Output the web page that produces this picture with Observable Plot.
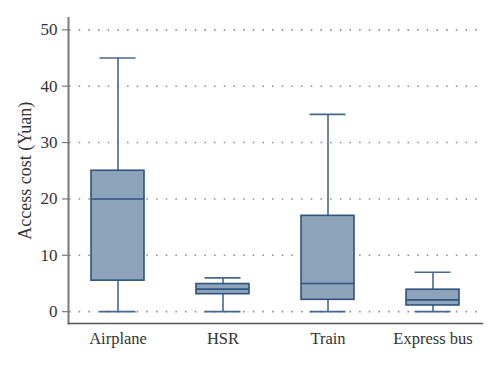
<!DOCTYPE html>
<html>
<head>
<meta charset="utf-8">
<script src="https://cdn.jsdelivr.net/npm/d3@7"></script>
<script src="https://cdn.jsdelivr.net/npm/@observablehq/plot@0.6"></script>
<style>
  html, body { margin: 0; padding: 0; background: #fff; }
  #chart svg { display: block; }
</style>
</head>
<body>
<div id="chart"></div>
<script>
const categories = ["Airplane", "HSR", "Train", "Express bus"];
const whiskerLow = [0, 0, 0, 0];
const q1 = [5.5, 3.1, 2.1, 1.1];
const median = [20, 4, 5, 2.1];
const q3 = [25, 4.9, 17, 3.9];
const whiskerHigh = [45, 6, 35, 7];
const yTicks = [0, 10, 20, 30, 40, 50];
const yLabel = "Access cost (Yuan)";

const data = categories.map((c, i) => ({
  cat: c, lo: whiskerLow[i], q1: q1[i], med: median[i], q3: q3[i], hi: whiskerHigh[i]
}));

const boxFill = "#8DA3B9";
const boxStroke = "#2F5380";
const whiskerColor = "#456893";
const axisGray = "#7a7a7a";

const chart = Plot.plot({
  width: 500,
  height: 365,
  marginLeft: 68,
  marginRight: 18,
  marginTop: 17.5,
  marginBottom: 42,
  style: { fontFamily: "'Liberation Serif', 'DejaVu Serif', serif", fontSize: "16px", color: "#333", background: "#fff" },
  x: { type: "band", domain: categories, paddingInner: 0.5, paddingOuter: 0.215, label: null },
  y: { domain: [-2.1, 52.1], label: null },
  marks: [
    Plot.gridY(yTicks, { stroke: "#8a8a8a", strokeOpacity: 1, strokeWidth: 1.6, strokeDasharray: "1.5 8.17", strokeDashoffset: 8.64 }),
    Plot.axisY(yTicks, { tickSize: 6, tickPadding: 5, stroke: axisGray, strokeWidth: 1.2, fontSize: 17, fill: "#333", label: null }),
    Plot.axisX({ tickSize: 0, tickPadding: 9, fontSize: 16.5, fill: "#333", label: null }),
    Plot.frame({ anchor: "left", stroke: axisGray, strokeWidth: 2 }),
    Plot.frame({ anchor: "bottom", stroke: "#555", strokeWidth: 1.5 }),
    Plot.text([yLabel], { frameAnchor: "left", dx: -43, rotate: -90, text: d => d, fontSize: 18, fill: "#333", textAnchor: "middle", lineAnchor: "middle" }),
    Plot.ruleX(data, { x: "cat", y1: "lo", y2: "hi", stroke: whiskerColor, strokeWidth: 1.6 }),
    Plot.tickY(data, { x: "cat", y: "hi", stroke: whiskerColor, strokeWidth: 1.6, inset: 8.5 }),
    Plot.tickY(data, { x: "cat", y: "lo", stroke: whiskerColor, strokeWidth: 1.6, inset: 8.5 }),
    Plot.barY(data, { x: "cat", y1: "q1", y2: "q3", fill: boxFill, stroke: boxStroke, strokeWidth: 1.6 }),
    Plot.tickY(data, { x: "cat", y: "med", stroke: boxStroke, strokeWidth: 1.6 })
  ]
});
document.getElementById("chart").appendChild(chart);
</script>
</body>
</html>
